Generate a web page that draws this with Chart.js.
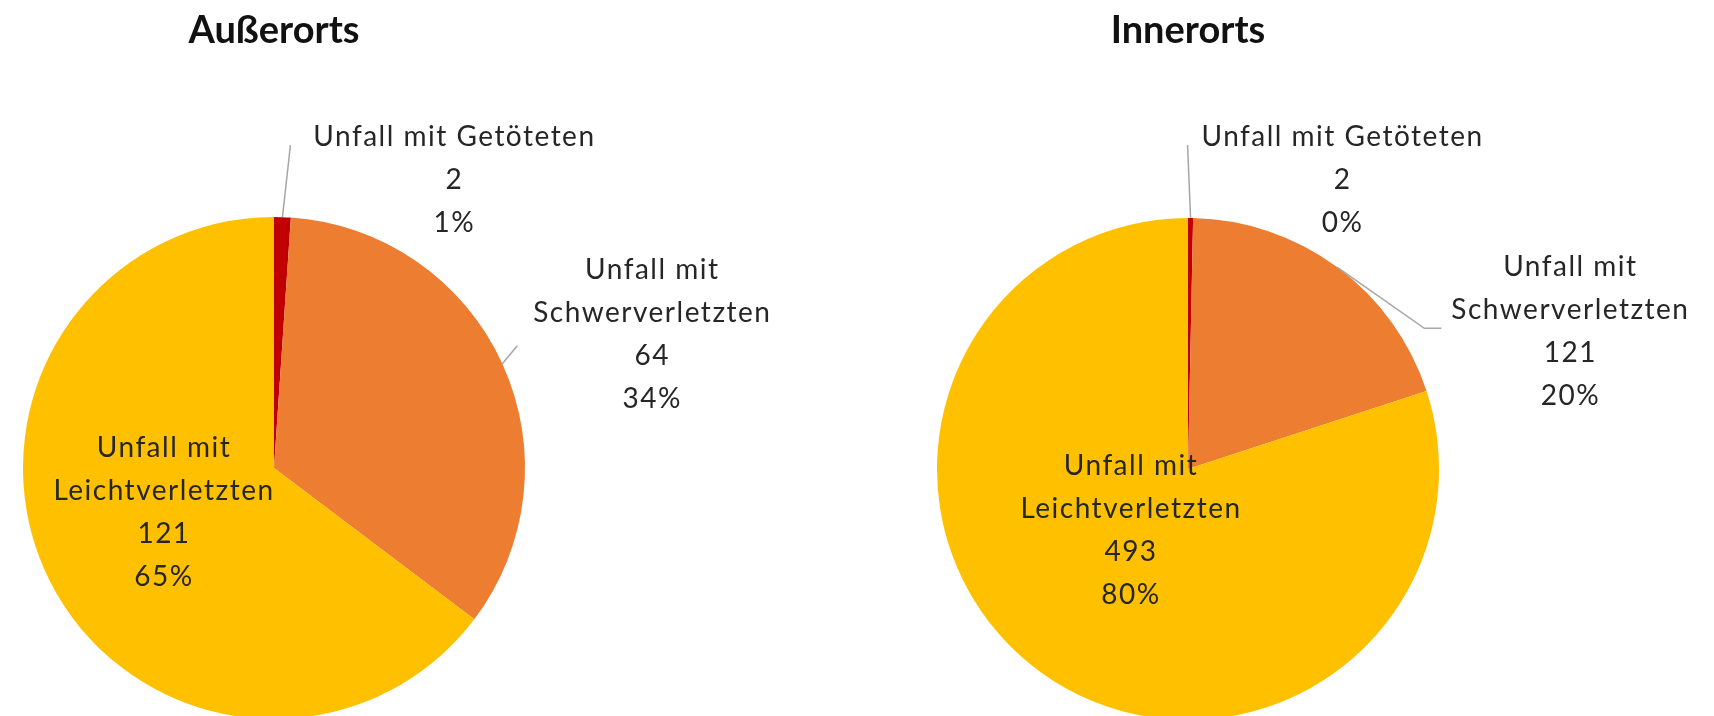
<!DOCTYPE html>
<html>
<head>
<meta charset="utf-8">
<script src="https://cdn.jsdelivr.net/npm/chart.js@4"></script>
<style>
  html, body { margin: 0; padding: 0; background: #fff; overflow: hidden; }
  #wrap { position: relative; width: 1714px; height: 716px; overflow: hidden; }
  canvas { position: absolute; top: 0; }
  #left-chart { left: 0; }
  #right-chart { left: 857px; }
</style>
</head>
<body>
<div id="wrap">
  <canvas id="left-chart" width="857" height="780"></canvas>
  <canvas id="right-chart" width="857" height="780"></canvas>
</div>
<script>
const categories = ["Unfall mit Getöteten", "Unfall mit Schwerverletzten", "Unfall mit Leichtverletzten"];
// how each category name is broken into lines on the chart
const categoryLines = [["Unfall mit Getöteten"], ["Unfall mit", "Schwerverletzten"], ["Unfall mit", "Leichtverletzten"]];
const ausserortsValues = [2, 64, 121];
const innerortsValues = [2, 121, 493];
const sliceColors = ["#C00000", "#ED7D31", "#FFC000"];

const textColor = "#262626";
const labelFont = "28px Lato";
const lineGap = 43;

// draws the data labels (name, value, percent) next to or inside each arc
const pieLabels = {
  id: "pieLabels",
  afterDatasetsDraw(chart, args, opts) {
    const ctx = chart.ctx;
    const meta = chart.getDatasetMeta(0);
    const values = chart.data.datasets[0].data;
    const total = values.reduce((a, b) => a + b, 0);
    meta.data.forEach((arc, i) => {
      const place = opts.places[i];
      const mid = (arc.startAngle + arc.endAngle) / 2;
      const r = arc.outerRadius;
      const ex = arc.x + Math.cos(mid) * r;
      const ey = arc.y + Math.sin(mid) * r;
      let bx, by;
      if (place.inside) {
        bx = arc.x + place.dx;
        by = arc.y + place.dy;
      } else {
        bx = ex + place.dx;
        by = ey + place.dy;
        ctx.save();
        ctx.strokeStyle = "#a6a6a6";
        ctx.lineWidth = 1.5;
        ctx.beginPath();
        ctx.moveTo(ex, ey);
        place.leader.forEach((p) => ctx.lineTo(ex + p[0], ey + p[1]));
        ctx.stroke();
        ctx.restore();
      }
      const lines = categoryLines[i].concat([String(values[i]), Math.round(values[i] / total * 100) + "%"]);
      ctx.save();
      ctx.font = labelFont;
      ctx.fillStyle = textColor;
      ctx.textAlign = "center";
      ctx.textBaseline = "middle";
      if ("letterSpacing" in ctx) ctx.letterSpacing = "1.5px";
      const top = by - (lines.length - 1) / 2 * lineGap;
      lines.forEach((t, k) => ctx.fillText(t, bx, top + k * lineGap));
      ctx.restore();
    });
  }
};

function makePie(canvasId, title, values, pad, places) {
  return new Chart(document.getElementById(canvasId), {
    type: "pie",
    data: {
      labels: categories,
      datasets: [{
        data: values,
        backgroundColor: sliceColors,
        borderWidth: 0,
        hoverOffset: 0,
        offset: 0,
      }],
    },
    options: {
      responsive: false,
      animation: false,
      events: [],
      layout: { padding: { left: pad.left, right: pad.right, top: 0, bottom: pad.bottom } },
      plugins: {
        legend: { display: false },
        tooltip: { enabled: false },
        title: {
          display: true,
          text: title,
          color: "#111",
          font: { family: "Lato", size: 38, weight: "bold", lineHeight: 1.2 },
          padding: { top: 8, bottom: pad.titleGap },
        },
        pieLabels: { places: places },
      },
    },
    plugins: [pieLabels],
  });
}

makePie("left-chart", "Außerorts", ausserortsValues,
  { left: 23, right: 332, bottom: 61, titleGap: 163.4 },
  [
    { dx: 172, dy: -37, leader: [[8, -72]] },
    { dx: 150, dy: -29, leader: [[15, -18]] },
    { inside: true, dx: -110, dy: 44 },
  ]);

makePie("right-chart", "Innerorts", innerortsValues,
  { left: 80, right: 275, bottom: 60, titleGap: 164.4 },
  [
    { dx: 152, dy: -38, leader: [[-3, -73]] },
    { dx: 233, dy: 64, leader: [[87, 61], [104, 61]] },
    { inside: true, dx: -57, dy: 61 },
  ]);
</script>
</body>
</html>
